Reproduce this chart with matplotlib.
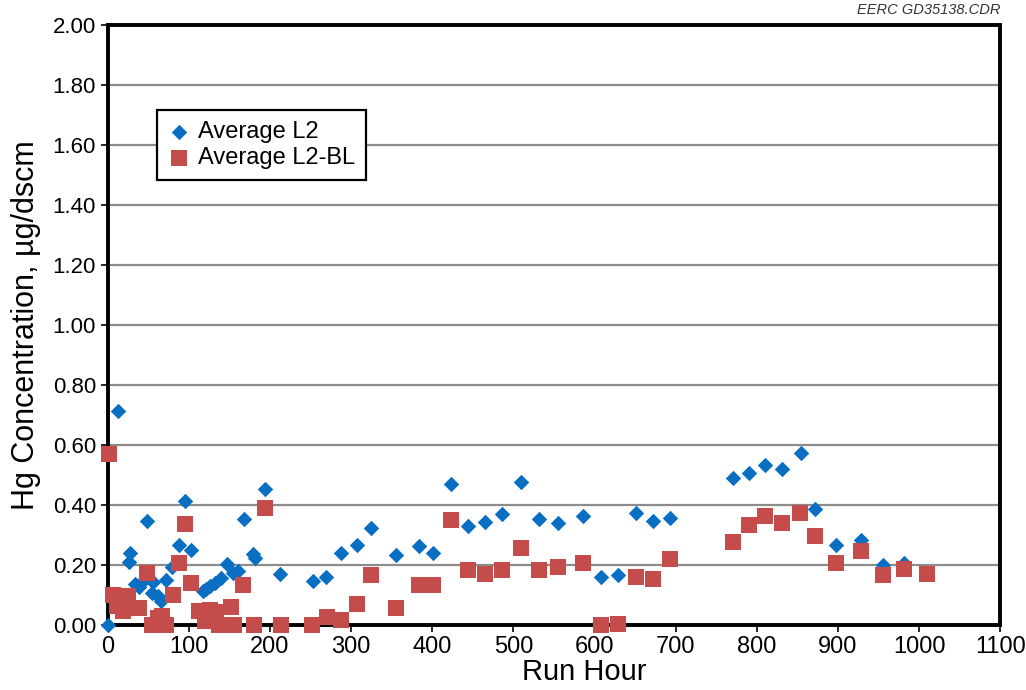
import matplotlib
matplotlib.use("Agg")
from matplotlib import pyplot as plt

# Average L2 readings (run hour, Hg ug/dscm)
l2_hours = [0, 13, 26, 28, 33, 38, 43, 48, 54, 56, 62, 66, 72, 79, 88, 95, 103,
            117, 121, 126, 132, 140, 147, 154, 161, 168, 179, 181, 194, 212,
            253, 269, 288, 307, 324, 355, 383, 401, 423, 444, 465, 486, 509,
            531, 555, 586, 608, 629, 651, 672, 693, 770, 790, 810, 831, 854,
            871, 898, 928, 956, 981]
l2_values = [0.00, 0.715, 0.21, 0.24, 0.138, 0.128, 0.148, 0.348, 0.108, 0.145,
             0.097, 0.08, 0.152, 0.193, 0.267, 0.413, 0.25, 0.113, 0.12, 0.13,
             0.14, 0.158, 0.204, 0.175, 0.18, 0.352, 0.236, 0.225, 0.454, 0.169,
             0.147, 0.16, 0.241, 0.267, 0.324, 0.233, 0.263, 0.241, 0.469, 0.33,
             0.344, 0.371, 0.477, 0.354, 0.339, 0.364, 0.16, 0.166, 0.373, 0.347,
             0.358, 0.491, 0.506, 0.533, 0.521, 0.574, 0.386, 0.267, 0.282, 0.20,
             0.207]

# Average L2-BL readings
bl_hours = [1, 6, 11, 19, 25, 29, 39, 48, 54, 62, 67, 72, 80, 88, 95, 103, 113,
            120, 126, 133, 137, 146, 152, 156, 167, 180, 194, 213, 252, 270,
            288, 307, 324, 355, 383, 401, 423, 444, 465, 486, 509, 531, 555,
            586, 608, 629, 651, 672, 693, 770, 790, 810, 831, 853, 871, 898,
            928, 956, 981, 1010]
bl_values = [0.57, 0.10, 0.063, 0.047, 0.097, 0.058, 0.058, 0.174, 0.0, 0.025,
             0.03, 0.0, 0.10, 0.208, 0.338, 0.14, 0.047, 0.015, 0.05, 0.045,
             0.0, 0.0, 0.06, 0.0, 0.135, 0.0, 0.389, 0.0, 0.0, 0.028, 0.017,
             0.072, 0.166, 0.058, 0.133, 0.135, 0.349, 0.183, 0.172, 0.183,
             0.258, 0.185, 0.194, 0.206, 0.0, 0.003, 0.162, 0.154, 0.221, 0.278,
             0.332, 0.363, 0.341, 0.372, 0.297, 0.208, 0.247, 0.167, 0.186,
             0.172]

x_ticks = list(range(0, 1101, 100))
y_ticks = [i * 0.2 for i in range(11)]

plt.rcParams["font.family"] = ["Liberation Sans", "DejaVu Sans"]

fig = plt.figure(figsize=(10.26, 6.9), dpi=100)
ax = fig.add_axes([0.105, 0.094, 0.870, 0.870])

ax.scatter(l2_hours, l2_values, marker="D", s=62, color="#0a6fc2",
           label="Average L2", zorder=3, clip_on=False, linewidths=0)
ax.scatter(bl_hours, bl_values, marker="s", s=120, color="#c44d4b",
           label="Average L2-BL", zorder=4, clip_on=False, linewidths=0)

ax.set_xlim(0, 1100)
ax.set_ylim(0, 2.0)
ax.set_xticks(x_ticks)
ax.set_yticks(y_ticks)
ax.set_xticklabels([str(t) for t in x_ticks], fontsize=17)
ax.set_yticklabels(["%.2f" % t for t in y_ticks], fontsize=16)
ax.tick_params(axis="both", direction="out", length=5, width=1.2, colors="black")
ax.tick_params(axis="x", pad=3)

ax.yaxis.grid(True, color="#8c8c8c", linewidth=1.6)
ax.set_axisbelow(True)
for side in ax.spines.values():
    side.set_linewidth(2.8)
    side.set_color("black")

# x label sits just under the tick labels, pushed right of centre
ax.set_xlabel("Run Hour", fontsize=21)
ax.xaxis.set_label_coords(0.534, -0.055)
ax.xaxis.label.set_va("top")
ax.set_ylabel("Hg Concentration, \u00b5g/dscm", fontsize=22, labelpad=8)

leg = ax.legend(loc="upper left", bbox_to_anchor=(0.055, 0.858), fontsize=17,
                frameon=True, fancybox=False, handletextpad=0.3,
                borderpad=0.45, labelspacing=0.2, handlelength=1.0,
                borderaxespad=0, scatterpoints=1)
leg.get_frame().set_edgecolor("black")
leg.get_frame().set_linewidth(1.6)
leg.get_frame().set_alpha(1.0)

fig.text(0.975, 0.975, "EERC GD35138.CDR", ha="right", va="bottom",
         fontsize=10.5, style="italic", color="#333333")

fig.savefig("out.png", dpi=100)
